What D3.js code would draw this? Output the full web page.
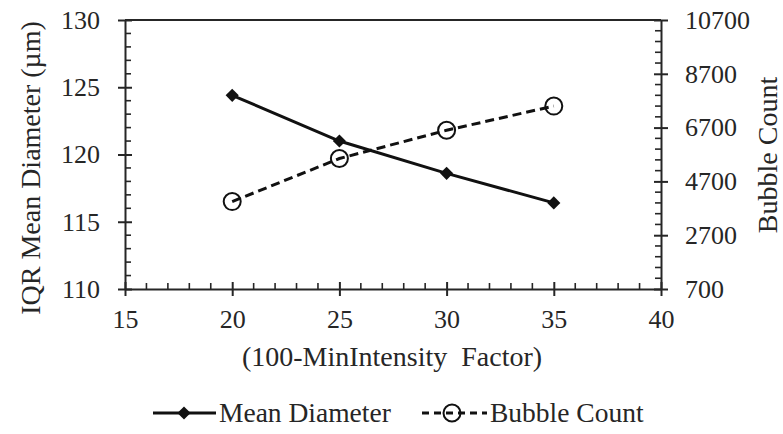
<!DOCTYPE html>
<html>
<head>
<meta charset="utf-8">
<script src="https://cdn.jsdelivr.net/npm/d3@7"></script>
<style>
  html, body { margin: 0; padding: 0; background: #fff; }
  svg { display: block; }
  svg text { font-family: "Liberation Serif", "Times New Roman", Times, serif; }
</style>
</head>
<body>
<div id="chart"></div>
<script>
const factors = [20, 25, 30, 35];
const meanDiameter = [124.4, 121.0, 118.6, 116.4];
const bubbleCount = [3950, 5550, 6600, 7500];
const xTicks = [15, 20, 25, 30, 35, 40];
const yLeftTicks = [110, 115, 120, 125, 130];
const yRightTicks = [700, 2700, 4700, 6700, 8700, 10700];

const W = 783, H = 434;
const m = { top: 20, right: 122, bottom: 145, left: 125 };
const innerW = W - m.left - m.right;
const innerH = H - m.top - m.bottom;

const svg = d3.select('#chart').append('svg')
  .attr('width', W).attr('height', H).attr('viewBox', `0 0 ${W} ${H}`);
const g = svg.append('g').attr('transform', `translate(${m.left},${m.top})`);

const x = d3.scaleLinear().domain([15, 40]).range([0, innerW]);
const yL = d3.scaleLinear().domain([110, 130]).range([innerH, 0]);
const yR = d3.scaleLinear().domain([700, 10700]).range([innerH, 0]);

const ink = '#262626';
const fs = 26;       // tick labels
const fsTitle = 28;  // axis titles
const fsLegend = 27.5;

// top border of the frame
g.append('line').attr('x1', 0).attr('x2', innerW).attr('y1', 0).attr('y2', 0)
  .attr('stroke', ink).attr('stroke-width', 2);

// minor ticks point into the plot
function minor(axisG, ticks, pos) {
  ticks.forEach(t => {
    const p = pos.scale(t);
    axisG.append('line')
      .attr('x1', pos.horiz ? p : 0).attr('x2', pos.horiz ? p : pos.dir * 6)
      .attr('y1', pos.horiz ? 0 : p).attr('y2', pos.horiz ? pos.dir * 6 : p)
      .attr('stroke', ink).attr('stroke-width', 1.6);
  });
}

// x axis
const xg = g.append('g').attr('transform', `translate(0,${innerH})`);
xg.call(d3.axisBottom(x).tickValues(xTicks).tickSize(7).tickSizeOuter(0).tickPadding(14)
  .tickFormat(d3.format('d')));
xg.selectAll('.tick line').attr('y1', -7);
minor(xg, d3.range(15, 40.01, 1).filter(v => v % 5 !== 0), { scale: x, horiz: true, dir: -1 });

// left axis
const yg = g.append('g');
yg.call(d3.axisLeft(yL).tickValues(yLeftTicks).tickSize(7).tickSizeOuter(0).tickPadding(18));
yg.selectAll('.tick line').attr('x1', 7);
minor(yg, d3.range(110, 130.01, 1).filter(v => v % 5 !== 0), { scale: yL, horiz: false, dir: 1 });

// right axis
const rg = g.append('g').attr('transform', `translate(${innerW},0)`);
rg.call(d3.axisRight(yR).tickValues(yRightTicks).tickSize(7).tickSizeOuter(0).tickPadding(17)
  .tickFormat(d3.format('d')));
rg.selectAll('.tick line').attr('x1', -7);
minor(rg, d3.range(700, 10700.01, 400).filter(v => (v - 700) % 2000 !== 0), { scale: yR, horiz: false, dir: -1 });

[xg, yg, rg].forEach(a => {
  a.attr('font-family', null);
  a.select('.domain').attr('stroke', ink).attr('stroke-width', 2);
  a.selectAll('.tick line').attr('stroke', ink).attr('stroke-width', 2);
  a.selectAll('.tick text').attr('fill', ink).attr('font-size', fs);
});

// axis titles
svg.append('text').attr('x', 392).attr('y', 366)
  .attr('text-anchor', 'middle').attr('font-size', fsTitle).attr('fill', ink)
  .style('white-space', 'pre').text('(100-MinIntensity  Factor)');
svg.append('text').attr('transform', `translate(40,168) rotate(-90)`)
  .attr('text-anchor', 'middle').attr('font-size', fsTitle).attr('fill', ink)
  .text('IQR Mean Diameter (µm)');
svg.append('text').attr('transform', `translate(777,155) rotate(-90)`)
  .attr('text-anchor', 'middle').attr('font-size', fsTitle).attr('fill', ink)
  .text('Bubble Count');

// series
const diamond = d3.symbol().type(d3.symbolDiamond2).size(110);

const meanPts = factors.map((f, i) => [x(f), yL(meanDiameter[i])]);
const bubPts = factors.map((f, i) => [x(f), yR(bubbleCount[i])]);

g.append('path').attr('d', d3.line()(meanPts))
  .attr('fill', 'none').attr('stroke', '#111').attr('stroke-width', 3);
g.append('path').attr('d', d3.line()(bubPts))
  .attr('fill', 'none').attr('stroke', '#111').attr('stroke-width', 3)
  .attr('stroke-dasharray', '9,5');

g.selectAll('.dm').data(meanPts).join('path')
  .attr('transform', d => `translate(${d[0]},${d[1]})`)
  .attr('d', diamond).attr('fill', '#111');
g.selectAll('.bc').data(bubPts).join('circle')
  .attr('cx', d => d[0]).attr('cy', d => d[1]).attr('r', 8.5)
  .attr('fill', 'none').attr('stroke', '#111').attr('stroke-width', 2);

// legend
const lg = svg.append('g').attr('transform', 'translate(0,413)');
lg.append('line').attr('x1', 153).attr('x2', 216).attr('y1', 0).attr('y2', 0)
  .attr('stroke', '#111').attr('stroke-width', 3);
lg.append('path').attr('transform', 'translate(184,0)').attr('d', diamond).attr('fill', '#111');
lg.append('text').attr('x', 219).attr('y', 9)
  .attr('font-size', fsLegend).attr('fill', ink).text('Mean Diameter');
lg.append('line').attr('x1', 422).attr('x2', 487).attr('y1', 0).attr('y2', 0)
  .attr('stroke', '#111').attr('stroke-width', 3).attr('stroke-dasharray', '7,5');
lg.append('circle').attr('cx', 452).attr('cy', 0).attr('r', 8.5)
  .attr('fill', 'none').attr('stroke', '#111').attr('stroke-width', 2);
lg.append('text').attr('x', 490).attr('y', 9)
  .attr('font-size', fsLegend).attr('fill', ink).text('Bubble Count');
</script>
</body>
</html>
